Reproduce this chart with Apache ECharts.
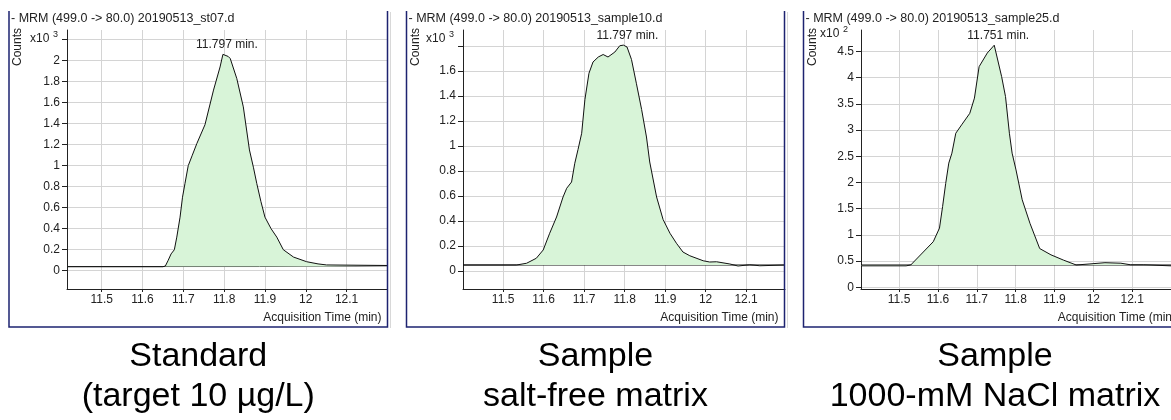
<!DOCTYPE html>
<html><head><meta charset="utf-8">
<script src="https://cdn.jsdelivr.net/npm/echarts@6/dist/echarts.min.js"></script>
<style>html,body{margin:0;padding:0;background:#fff}#c{width:1171px;height:420px}</style>
</head><body><div id="c"></div>
<script>
// ---- text ----
const panelTitles = ['- MRM (499.0 -> 80.0) 20190513_st07.d', '- MRM (499.0 -> 80.0) 20190513_sample10.d', '- MRM (499.0 -> 80.0) 20190513_sample25.d'];
const captionLine1 = ['Standard', 'Sample', 'Sample'];
const captionLine2 = ['(target 10 µg/L)', 'salt-free matrix', '1000-mM NaCl matrix'];
const peakLabels = ['11.797 min.', '11.797 min.', '11.751 min.'];
const scaleExponents = ['3', '3', '2'];
const yAxisTitle = 'Counts';
const xAxisTitle = 'Acquisition Time (min)';

// ---- ticks ----
const xTickValues = [11.5, 11.6, 11.7, 11.8, 11.9, 12, 12.1];
const xTickLabels = ['11.5', '11.6', '11.7', '11.8', '11.9', '12', '12.1'];
const yTicks1 = [0, 0.2, 0.4, 0.6, 0.8, 1, 1.2, 1.4, 1.6, 1.8, 2, 2.2];
const yTickLabels1 = ['0', '0.2', '0.4', '0.6', '0.8', '1', '1.2', '1.4', '1.6', '1.8', '2', ''];
const yTicks2 = [0, 0.2, 0.4, 0.6, 0.8, 1, 1.2, 1.4, 1.6, 1.8];
const yTickLabels2 = ['0', '0.2', '0.4', '0.6', '0.8', '1', '1.2', '1.4', '1.6', ''];
const yTicks3 = [0, 0.5, 1, 1.5, 2, 2.5, 3, 3.5, 4, 4.5];
const yTickLabels3 = ['0', '0.5', '1', '1.5', '2', '2.5', '3', '3.5', '4', '4.5'];

// ---- data: panel 1 (x10^3 counts) ----
const time1 = [11.415, 11.650, 11.656, 11.663, 11.670, 11.678, 11.684, 11.692, 11.698, 11.704, 11.712, 11.722, 11.733, 11.753, 11.774, 11.790, 11.797, 11.810, 11.815, 11.831, 11.847, 11.862, 11.872, 11.880, 11.890, 11.900, 11.915, 11.929, 11.945, 11.970, 12.002, 12.030, 12.051, 12.199];
const counts1 = [0.038, 0.038, 0.045, 0.10, 0.16, 0.20, 0.32, 0.51, 0.70, 0.83, 1.00, 1.10, 1.21, 1.39, 1.72, 1.94, 2.06, 2.04, 2.02, 1.83, 1.56, 1.15, 0.98, 0.83, 0.66, 0.51, 0.40, 0.32, 0.20, 0.13, 0.086, 0.065, 0.055, 0.05];
const baseTime1 = [11.415, 11.887, 11.887, 12.199];
const baseCounts1 = [0.040, 0.040, 0.047, 0.047];

// ---- data: panel 2 (x10^3 counts) ----
const time2 = [11.401, 11.533, 11.558, 11.582, 11.599, 11.615, 11.632, 11.648, 11.657, 11.669, 11.677, 11.685, 11.694, 11.702, 11.712, 11.722, 11.735, 11.747, 11.759, 11.776, 11.788, 11.797, 11.806, 11.817, 11.829, 11.842, 11.854, 11.862, 11.879, 11.895, 11.912, 11.928, 11.944, 11.961, 11.994, 12.010, 12.027, 12.060, 12.080, 12.109, 12.134, 12.196];
const counts2 = [0.046, 0.046, 0.06, 0.10, 0.166, 0.30, 0.43, 0.59, 0.66, 0.71, 0.86, 0.97, 1.10, 1.37, 1.58, 1.67, 1.71, 1.73, 1.71, 1.75, 1.80, 1.805, 1.79, 1.69, 1.50, 1.29, 1.07, 0.87, 0.59, 0.41, 0.30, 0.22, 0.15, 0.12, 0.08, 0.07, 0.072, 0.054, 0.038, 0.048, 0.04, 0.046];
const baseTime2 = [11.401, 12.196];
const baseCounts2 = [0.046, 0.046];

// ---- data: panel 3 (x10^2 counts) ----
const time3 = [11.402, 11.518, 11.530, 11.588, 11.604, 11.612, 11.620, 11.628, 11.636, 11.646, 11.661, 11.682, 11.694, 11.706, 11.727, 11.745, 11.764, 11.774, 11.784, 11.791, 11.801, 11.817, 11.837, 11.862, 11.891, 11.923, 11.956, 11.989, 12.030, 12.071, 12.096, 12.130, 12.200];
const counts3 = [0.41, 0.41, 0.426, 0.87, 1.13, 1.54, 1.98, 2.37, 2.56, 2.94, 3.10, 3.32, 3.61, 4.21, 4.47, 4.62, 4.02, 3.64, 2.94, 2.56, 2.24, 1.67, 1.22, 0.74, 0.62, 0.52, 0.426, 0.445, 0.47, 0.46, 0.43, 0.43, 0.41];
const baseTime3 = [11.402, 12.2];
const baseCounts3 = [0.426, 0.426];

// ---- assemble ----
const FONT = '"Liberation Sans", Arial, sans-serif';
const panels = [
  { t: time1, c: counts1, bt: baseTime1, bc: baseCounts1, yt: yTicks1, yl: yTickLabels1,
    xMin: 11.415, xMax: 12.199, yMin: -0.174, yMax: 2.292,
    grid: { left: 67, top: 30, width: 320, height: 259 }, frame: [9, 387.5] },
  { t: time2, c: counts2, bt: baseTime2, bc: baseCounts2, yt: yTicks2, yl: yTickLabels2,
    xMin: 11.401, xMax: 12.196, yMin: -0.146, yMax: 1.926,
    grid: { left: 463, top: 30, width: 322, height: 259 }, frame: [406.5, 784.5] },
  { t: time3, c: counts3, bt: baseTime3, bc: baseCounts3, yt: yTicks3, yl: yTickLabels3,
    xMin: 11.402, xMax: 12.2, yMin: -0.032, yMax: 4.91,
    grid: { left: 861, top: 30, width: 321, height: 259 }, frame: [803.5, 1182] }
];

const zip = (a, b) => a.map((v, i) => [v, b[i]]);
const labelFor = (ticks, labels) => (v) => {
  const i = ticks.findIndex(t => Math.abs(t - v) < 1e-9);
  return i >= 0 ? labels[i] : '';
};

const grids = [], xAxes = [], yAxes = [], series = [], graphic = [];
panels.forEach((p, k) => {
  grids.push(Object.assign({ containLabel: false }, p.grid));
  xAxes.push({
    type: 'value', gridIndex: k, min: p.xMin, max: p.xMax,
    axisLine: { show: true, onZero: false, lineStyle: { color: '#222', width: 1 } },
    axisTick: { show: true, length: 3, customValues: xTickValues, lineStyle: { color: '#222' } },
    axisLabel: { customValues: xTickValues, formatter: labelFor(xTickValues, xTickLabels), color: '#222', fontFamily: FONT, fontSize: 12, margin: 5, showMinLabel: true, showMaxLabel: true },
    splitLine: { show: true, lineStyle: { color: '#d4d4d4', width: 1 } }
  });
  yAxes.push({
    type: 'value', gridIndex: k, min: p.yMin, max: p.yMax,
    axisLine: { show: true, onZero: false, lineStyle: { color: '#222', width: 1 } },
    axisTick: { show: true, length: 5, customValues: p.yt, lineStyle: { color: '#222' } },
    axisLabel: { customValues: p.yt, formatter: labelFor(p.yt, p.yl), color: '#222', fontFamily: FONT, fontSize: 12, margin: 7 },
    splitLine: { show: true, lineStyle: { color: '#d4d4d4', width: 1 } }
  });
  const apexIdx = p.c.indexOf(Math.max(...p.c));
  series.push({
    type: 'line', xAxisIndex: k, yAxisIndex: k, data: zip(p.t, p.c),
    symbol: 'none', smooth: false, z: 3,
    lineStyle: { color: '#111', width: 1 },
    areaStyle: { color: '#d8f4d8', opacity: 1, origin: p.bc[0] },
    markPoint: {
      symbol: 'rect', symbolSize: 1, itemStyle: { color: 'rgba(0,0,0,0)' },
      label: { show: true, position: 'top', distance: 3, offset: [4, 0], color: '#222', fontFamily: FONT, fontSize: 12, formatter: peakLabels[k] },
      data: [{ coord: [p.t[apexIdx], p.c[apexIdx]] }]
    }
  });
  series.push({
    type: 'line', xAxisIndex: k, yAxisIndex: k, data: zip(p.bt, p.bc),
    symbol: 'none', z: 2, lineStyle: { color: '#111', width: 1 }
  });

  const [x0, x1] = p.frame;
  const axL = p.grid.left;
  graphic.push({ type: 'polyline', shape: { points: [[x1 + 3, 12], [x1 + 3, 328]] }, style: { stroke: '#d8d8d8', lineWidth: 1, fill: null }, z: 10 });
  graphic.push({ type: 'polyline', shape: { points: [[x0, 11], [x0, 327], [x1, 327], [x1, 11]] }, style: { stroke: '#1d2370', lineWidth: 1.5, fill: null }, z: 10 });
  graphic.push({ type: 'text', x: x0 + 2, y: 19, style: { text: panelTitles[k], font: '12.5px ' + FONT, fill: '#222', textVerticalAlign: 'middle', textAlign: 'left' }, z: 10 });
  graphic.push({ type: 'text', x: x0 + 9, y: 47, rotation: Math.PI / 2, style: { text: yAxisTitle, font: '12px ' + FONT, fill: '#222', textAlign: 'center', textVerticalAlign: 'middle' }, z: 10 });
  const xs = k === 2 ? axL - 41 : axL - 37;
  const ys = k === 2 ? 34 : 39;
  graphic.push({ type: 'text', x: xs, y: ys, style: { text: 'x10', font: '12px ' + FONT, fill: '#222', textAlign: 'left', textVerticalAlign: 'middle' }, z: 10 });
  graphic.push({ type: 'text', x: xs + 23, y: ys - 4, style: { text: scaleExponents[k], font: '9px ' + FONT, fill: '#222', textAlign: 'left', textVerticalAlign: 'middle' }, z: 10 });
  graphic.push({ type: 'text', x: x1 - 6, y: 318, style: { text: xAxisTitle, font: '12px ' + FONT, fill: '#222', textAlign: 'right', textVerticalAlign: 'middle' }, z: 10 });
  const cx = k === 2 ? 995 : (x0 + x1) / 2;
  graphic.push({ type: 'text', x: cx, y: 357, style: { text: captionLine1[k], font: '34px ' + FONT, fill: '#000', textAlign: 'center', textVerticalAlign: 'middle' }, z: 10 });
  graphic.push({ type: 'text', x: cx, y: 397, style: { text: captionLine2[k], font: '34px ' + FONT, fill: '#000', textAlign: 'center', textVerticalAlign: 'middle' }, z: 10 });
});

const chart = echarts.init(document.getElementById('c'), null, { renderer: 'canvas' });
chart.setOption({
  backgroundColor: '#ffffff',
  animation: false,
  grid: grids, xAxis: xAxes, yAxis: yAxes, series: series, graphic: graphic
});
</script></body></html>
